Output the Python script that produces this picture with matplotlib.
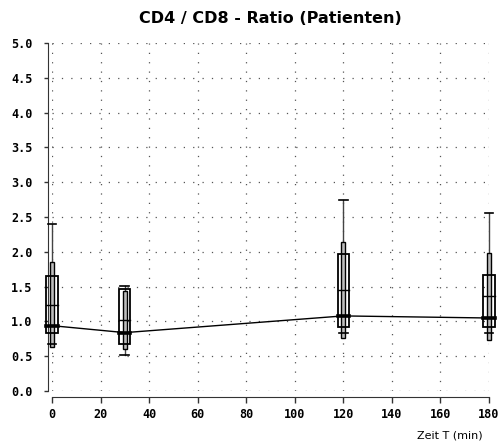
import matplotlib.pyplot as plt
from matplotlib.patches import Rectangle

# Messzeitpunkte und Kennwerte der CD4/CD8-Ratio
zeit = [0, 30, 120, 180]
whisker_hi = [2.40, 1.51, 2.75, 2.56]
whisker_lo = [0.68, 0.52, 0.84, 0.83]
p90 = [1.86, 1.44, 2.14, 1.98]
p10 = [0.64, 0.61, 0.76, 0.73]
q3 = [1.65, 1.47, 1.97, 1.67]
q1 = [0.84, 0.68, 0.92, 0.92]
median = [0.94, 0.84, 1.08, 1.05]
mittel = [1.24, 1.02, 1.45, 1.36]

x_ticks = [0, 20, 40, 60, 80, 100, 120, 140, 160, 180]
y_ticks = [0.0, 0.5, 1.0, 1.5, 2.0, 2.5, 3.0, 3.5, 4.0, 4.5, 5.0]

fig = plt.figure(figsize=(5, 4.48), dpi=100)
ax = fig.add_axes([0.104, 0.127, 0.874, 0.777])

ax.set_xlim(0, 180)
ax.set_ylim(0, 5)

# Verlauf der Mediane
ax.plot(zeit, median, color="black", lw=1, zorder=3)

box_hw = 2.3
schmal_hw = 0.8
cap_hw = 1.8
for i, t in enumerate(zeit):
    ax.plot([t, t], [whisker_lo[i], whisker_hi[i]], color="#444444", lw=1, zorder=4, clip_on=False)
    for v in (whisker_lo[i], whisker_hi[i]):
        ax.plot([t - cap_hw, t + cap_hw], [v, v], color="black", lw=1.2, zorder=6, clip_on=False)
    ax.add_patch(Rectangle((t - schmal_hw, p10[i]), 2 * schmal_hw, p90[i] - p10[i],
                           facecolor="#bdbdbd", edgecolor="black", lw=1, zorder=5, clip_on=False))
    ax.add_patch(Rectangle((t - box_hw, q1[i]), 2 * box_hw, q3[i] - q1[i],
                           facecolor="none", edgecolor="black", lw=1.3, zorder=6, clip_on=False))
    ax.plot([t - box_hw, t + box_hw], [mittel[i], mittel[i]], color="black", lw=1, zorder=7, clip_on=False)
    ax.plot([t - box_hw, t + box_hw], [median[i], median[i]], color="black", lw=2.6, zorder=7, clip_on=False)

ax.set_xticks(x_ticks)
ax.set_yticks(y_ticks)
ax.set_xticklabels([str(v) for v in x_ticks])
ax.set_yticklabels([f"{v:.1f}" for v in y_ticks])
ax.grid(True, color="#555555", linestyle=(0, (1, 6.5)), lw=0.9)
ax.set_axisbelow(True)

for s in ("top", "right"):
    ax.spines[s].set_visible(False)
ax.spines["left"].set_position(("outward", 3))
ax.spines["bottom"].set_position(("outward", 4.5))
ax.spines["left"].set_bounds(0, 5)
ax.spines["bottom"].set_bounds(0, 180)
ax.spines["left"].set_color("#333333")
ax.spines["bottom"].set_color("#333333")

ax.tick_params(axis="y", length=3, width=1, pad=8, color="#333333")
ax.tick_params(axis="x", length=4, width=1, pad=4, color="#333333")
for lab in ax.get_xticklabels() + ax.get_yticklabels():
    lab.set_family("DejaVu Sans Mono")
    lab.set_fontweight("bold")
    lab.set_fontsize(8.5)

fig.text(0.54, 0.958, "CD4 / CD8 - Ratio (Patienten)", ha="center", va="center",
         fontsize=11.5, fontweight="bold", family="DejaVu Sans")
fig.text(0.9, 0.027, "Zeit T (min)", ha="center", va="center",
         fontsize=8, family=["Liberation Sans Narrow", "DejaVu Sans"])

fig.savefig("out.png", dpi=100, facecolor="white")
